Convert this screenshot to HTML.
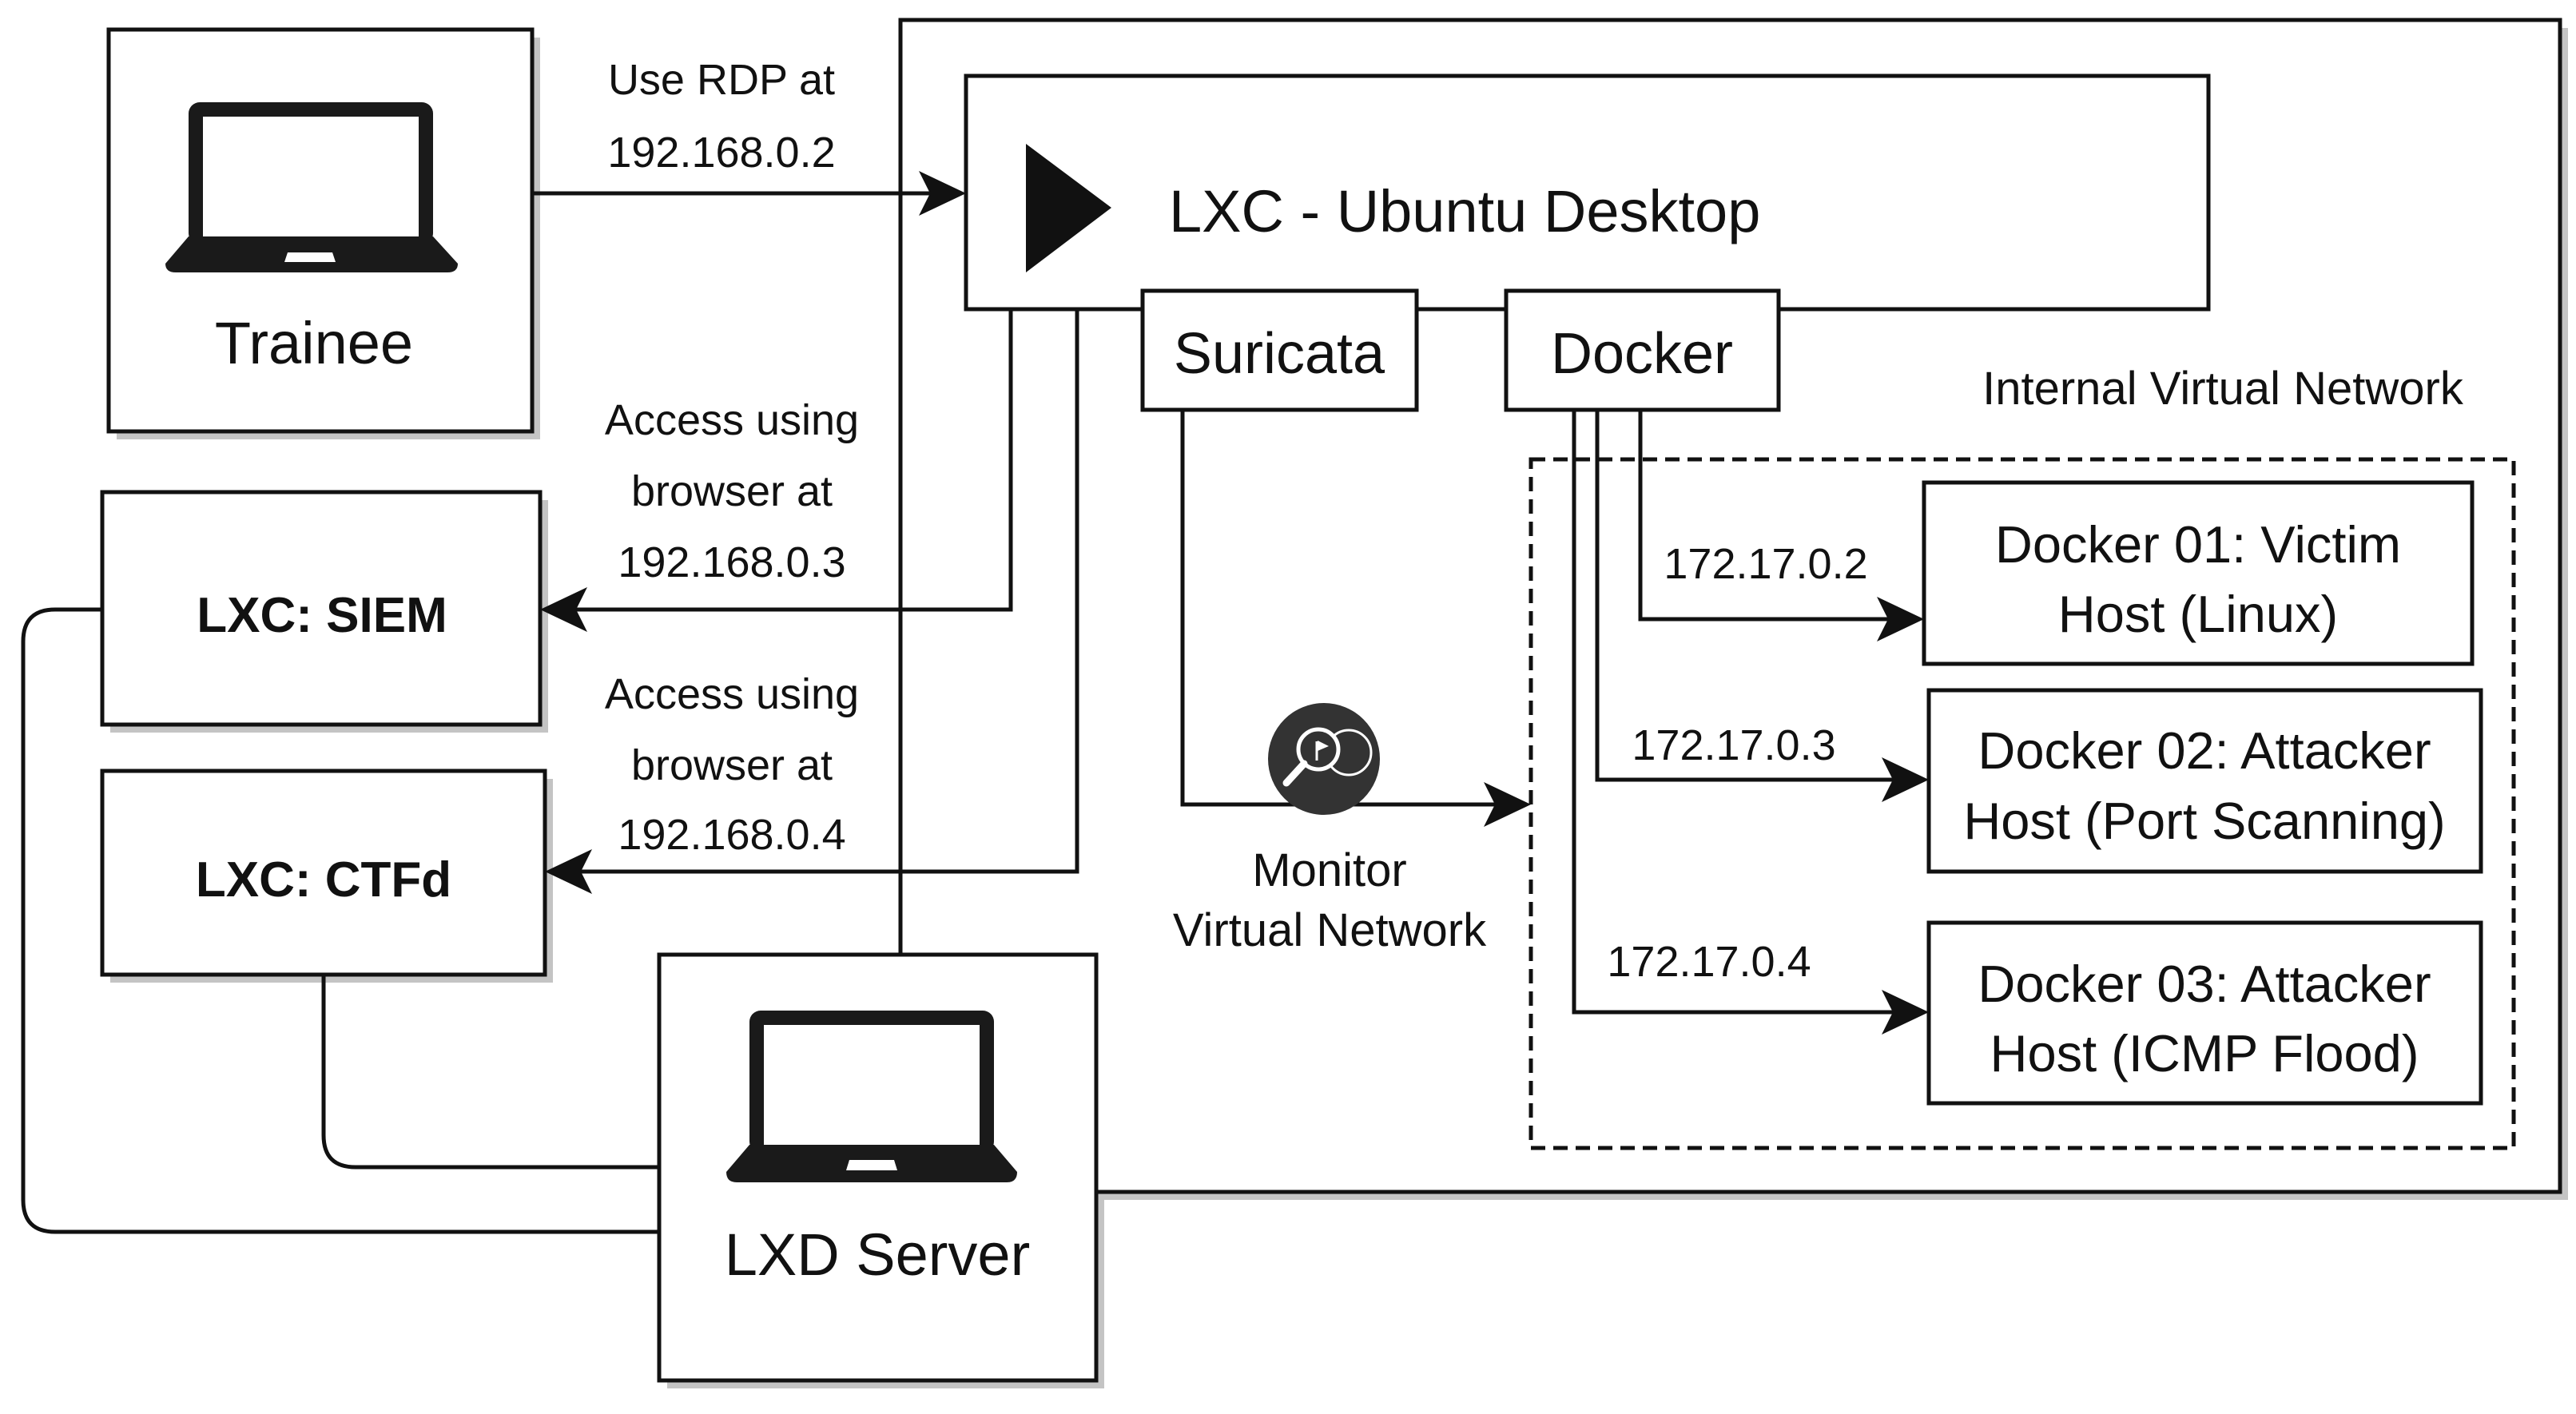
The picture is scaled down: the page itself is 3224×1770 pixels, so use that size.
<!DOCTYPE html>
<html><head><meta charset="utf-8"><style>
html,body{margin:0;padding:0;background:#fff}
svg{display:block}
text{font-family:"Liberation Sans",Arial,sans-serif;fill:#111}
</style></head><body>
<svg width="3224" height="1770" viewBox="0 0 3224 1770" xmlns="http://www.w3.org/2000/svg">
<defs>
<marker id="ah" markerWidth="10" markerHeight="10" refX="9" refY="5" orient="auto" markerUnits="userSpaceOnUse" viewBox="0 0 10 10">
</marker>
</defs>
<g fill="#c4c4c4" stroke="none">
<rect x="1137" y="35" width="2077" height="1467"/>
<rect x="146" y="47" width="530" height="503"/>
<rect x="1219" y="105" width="1555" height="292"/>
<rect x="1440" y="374" width="343" height="149"/>
<rect x="1895" y="374" width="341" height="149"/>
<rect x="138" y="626" width="548" height="291"/>
<rect x="138" y="975" width="554" height="255"/>
<rect x="835" y="1205" width="547" height="533"/>
<rect x="2418" y="614" width="686" height="227"/>
<rect x="2424" y="874" width="691" height="227"/>
<rect x="2424" y="1165" width="691" height="226"/>
<circle cx="1667" cy="960" r="70"/>
</g>
<g fill="none" stroke="#c4c4c4" stroke-width="5" stroke-dasharray="18 10"><rect x="1926" y="585" width="1230" height="862"/></g>
<g stroke="#111" stroke-width="5" fill="#fff">
<rect x="1127" y="25" width="2077" height="1467"/>
<rect x="136" y="37" width="530" height="503"/>
<rect x="1209" y="95" width="1555" height="292"/>
<rect x="1430" y="364" width="343" height="149"/>
<rect x="1885" y="364" width="341" height="149"/>
<rect x="128" y="616" width="548" height="291"/>
<rect x="128" y="965" width="554" height="255"/>
</g>
<rect x="1916" y="575" width="1230" height="862" fill="none" stroke="#111" stroke-width="5" stroke-dasharray="18 10"/>
<g stroke="#111" stroke-width="5" fill="#fff">
<rect x="2408" y="604" width="686" height="227"/>
<rect x="2414" y="864" width="691" height="227"/>
<rect x="2414" y="1155" width="691" height="226"/>
</g>
<!-- connectors -->
<g stroke="#111" stroke-width="5" fill="none">
<path d="M666 242 H1195"/>
<path d="M1265 387 V763 H690"/>
<path d="M1348 387 V1091 H696"/>
<path d="M2053 513 V775 H2394"/>
<path d="M1999 513 V976 H2400"/>
<path d="M1970 513 V1267 H2400"/>
<path d="M1480 513 V1007 H1902"/>
<path d="M405 1220 V1421 Q405 1461 445 1461 H825"/>
<path d="M128 763 H69 Q29 763 29 803 V1502 Q29 1542 69 1542 H825"/>
</g>
<g fill="#111">
<polygon points="1209,242 1150,214 1164,242 1150,270"/>
<polygon points="676,763 735,735 721,763 735,791"/>
<polygon points="682,1091 741,1063 727,1091 741,1119"/>
<polygon points="2408,775 2349,747 2363,775 2349,803"/>
<polygon points="2414,976 2355,948 2369,976 2355,1004"/>
<polygon points="2414,1267 2355,1239 2369,1267 2355,1295"/>
<polygon points="1916,1007 1857,979 1871,1007 1857,1035"/>
<polygon points="1284,180 1391,260 1284,341"/>
</g>
<!-- LXD server box -->
<rect x="825" y="1195" width="547" height="533" fill="#fff" stroke="#111" stroke-width="5"/>
<!-- laptop icons -->
<g fill="#1a1a1a">
<rect x="236" y="128" width="306" height="178" rx="14"/>
<path d="M236 296 H542 L573 330 Q573 341 560 341 H220 Q207 341 207 330 Z"/>
<rect x="938" y="1265" width="306" height="178" rx="14"/>
<path d="M938 1433 H1244 L1273 1467 Q1273 1480 1260 1480 H922 Q909 1480 909 1467 Z"/>
</g>
<g fill="#fff">
<rect x="254" y="146" width="270" height="150"/>
<polygon points="360,316 416,316 420,328 356,328"/>
<rect x="956" y="1283" width="270" height="150"/>
<polygon points="1063,1452 1119,1452 1123,1465 1059,1465"/>
</g>
<!-- monitor icon -->
<circle cx="1657" cy="950" r="70" fill="#333"/>
<g stroke="#fff" fill="none" stroke-width="5">
<circle cx="1688" cy="942" r="28" stroke-width="3"/>
<circle cx="1650" cy="938" r="25" fill="#333"/>
<line x1="1632" y1="956" x2="1610" y2="980" stroke-width="9" stroke-linecap="round"/>
<line x1="1648" y1="928" x2="1648" y2="952" stroke-width="3"/>
</g>
<polygon points="1649,927 1663,934 1649,940" fill="#fff"/>
<!-- text -->
<g text-anchor="middle">
<text x="393" y="455" font-size="74">Trainee</text>
<text x="1098" y="1596" font-size="74">LXD Server</text>
<text x="1601" y="467" font-size="72">Suricata</text>
<text x="2055" y="467" font-size="72">Docker</text>
<text x="2782" y="506" font-size="58">Internal Virtual Network</text>
<text x="2751" y="704" font-size="65">Docker 01: Victim</text>
<text x="2751" y="791" font-size="65">Host (Linux)</text>
<text x="2759" y="962" font-size="65">Docker 02: Attacker</text>
<text x="2759" y="1050" font-size="65">Host (Port Scanning)</text>
<text x="2759" y="1254" font-size="65">Docker 03: Attacker</text>
<text x="2759" y="1341" font-size="65">Host (ICMP Flood)</text>
<text x="2210" y="724" font-size="54">172.17.0.2</text>
<text x="2170" y="951" font-size="54">172.17.0.3</text>
<text x="2139" y="1222" font-size="54">172.17.0.4</text>
<text x="1664" y="1109" font-size="58">Monitor</text>
<text x="1664" y="1184" font-size="58">Virtual Network</text>
<text x="403" y="791" font-size="62" font-weight="bold">LXC: SIEM</text>
<text x="405" y="1122" font-size="62" font-weight="bold">LXC: CTFd</text>
<text x="903" y="118" font-size="54">Use RDP at</text>
<text x="903" y="209" font-size="54">192.168.0.2</text>
<text x="916" y="544" font-size="54">Access using</text>
<text x="916" y="633" font-size="54">browser at</text>
<text x="916" y="722" font-size="54">192.168.0.3</text>
<text x="916" y="887" font-size="54">Access using</text>
<text x="916" y="976" font-size="54">browser at</text>
<text x="916" y="1063" font-size="54">192.168.0.4</text>
</g>
<text x="1463" y="290" font-size="74">LXC - Ubuntu Desktop</text>
</svg>
</body></html>
